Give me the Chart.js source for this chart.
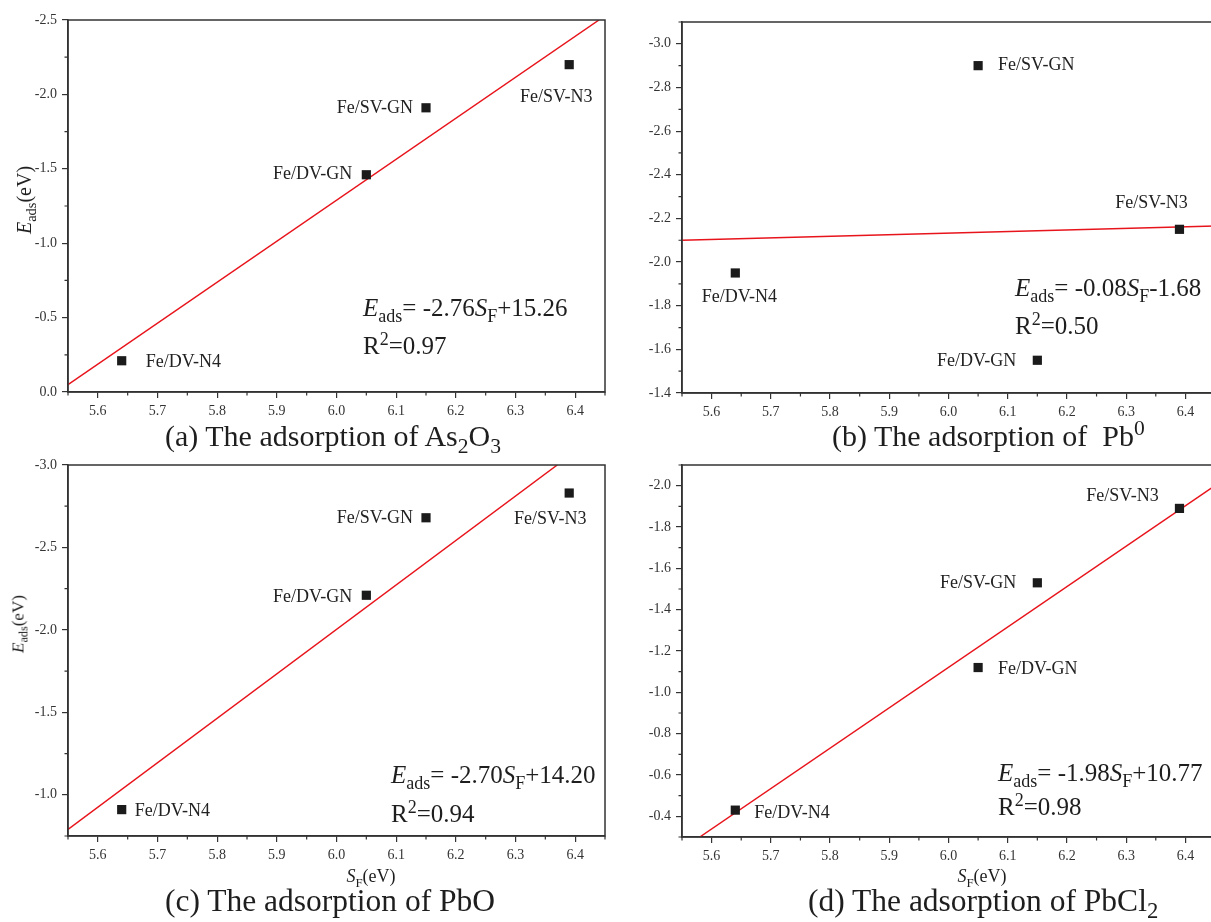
<!DOCTYPE html>
<html>
<head>
<meta charset="utf-8">
<title>Eads vs SF</title>
<script src="https://cdn.jsdelivr.net/npm/chart.js@4.4.1/dist/chart.umd.min.js"></script>
<style>
  html, body { margin: 0; padding: 0; overflow: hidden; }
  body { width: 1211px; height: 922px; position: relative; background: #fff;
         font-family: 'Liberation Serif', 'Times New Roman', serif; color: #1e1e1e; }
  canvas { position: absolute; }
  .t { position: absolute; white-space: nowrap; line-height: 1; }
  .t sub, .t sup { line-height: 0; font-size: 0.72em; }
  .eq { font-size: 25px; }
  .cap { font-size: 30px; }
  .cap2 { font-size: 31.5px; }
  .ytitle { transform: translate(-50%, -50%) rotate(-90deg); }
  .xtitle { transform: translate(-50%, -50%); font-size: 18px; }
</style>
</head>
<body>
<canvas id="chartA" width="620" height="440" style="left:0;top:0"></canvas>
<canvas id="chartB" width="640" height="440" style="left:600px;top:0"></canvas>
<canvas id="chartC" width="620" height="440" style="left:0;top:445px"></canvas>
<canvas id="chartD" width="640" height="440" style="left:600px;top:445px"></canvas>

<!-- axis titles -->
<div class="t ytitle" style="left:24px;top:200px;font-size:20px"><i>E</i><sub>ads</sub>(eV)</div>
<div class="t ytitle" style="left:18px;top:624px;font-size:17px"><i>E</i><sub>ads</sub>(eV)</div>
<div class="t xtitle" style="left:371px;top:876px"><i>S</i><sub>F</sub>(eV)</div>
<div class="t xtitle" style="left:982px;top:876px"><i>S</i><sub>F</sub>(eV)</div>

<!-- fit equations -->
<div class="t eq" style="left:363px;top:295px"><i>E</i><sub>ads</sub>= -2.76<i>S</i><sub>F</sub>+15.26</div>
<div class="t eq" style="left:363px;top:333px">R<sup>2</sup>=0.97</div>
<div class="t eq" style="left:1015px;top:275px"><i>E</i><sub>ads</sub>= -0.08<i>S</i><sub>F</sub>-1.68</div>
<div class="t eq" style="left:1015px;top:313px">R<sup>2</sup>=0.50</div>
<div class="t eq" style="left:391px;top:762px"><i>E</i><sub>ads</sub>= -2.70<i>S</i><sub>F</sub>+14.20</div>
<div class="t eq" style="left:391px;top:801px">R<sup>2</sup>=0.94</div>
<div class="t eq" style="left:998px;top:760px"><i>E</i><sub>ads</sub>= -1.98<i>S</i><sub>F</sub>+10.77</div>
<div class="t eq" style="left:998px;top:794px">R<sup>2</sup>=0.98</div>

<!-- panel captions -->
<div class="t cap" style="left:165px;top:421px">(a) The adsorption of As<sub>2</sub>O<sub>3</sub></div>
<div class="t cap" style="left:832px;top:421px">(b) The adsorption of &nbsp;Pb<sup>0</sup></div>
<div class="t cap2" style="left:165px;top:885px">(c) The adsorption of PbO</div>
<div class="t cap2" style="left:808px;top:885px">(d) The adsorption of PbCl<sub>2</sub></div>

<script>
// S_F (eV) of the four adsorption sites
const sF = [5.64, 6.05, 6.15, 6.39];
const sites = ['Fe/DV-N4', 'Fe/DV-GN', 'Fe/SV-GN', 'Fe/SV-N3'];
// panel (b) has the two middle labels the other way round
const sitesPb0 = ['Fe/DV-N4', 'Fe/SV-GN', 'Fe/DV-GN', 'Fe/SV-N3'];

// E_ads (eV) per adsorbate, same order as sF
const eAs2O3 = [-0.21, -1.46, -1.91, -2.20];
const ePb0 = [-1.95, -2.90, -1.55, -2.15];
const ePbO = [-0.91, -2.21, -2.68, -2.83];
const ePbCl2 = [-0.43, -1.12, -1.53, -1.89];

// fitted lines, end points
const fitXAs2O3 = [5.55, 6.44], fitYAs2O3 = [-0.05, -2.50];
const fitXPb0 = [5.55, 6.45], fitYPb0 = [-2.10, -2.165];
const fitXPbO = [5.55, 6.37], fitYPbO = [-0.79, -3.00];
const fitXPbCl2 = [5.58, 6.45], fitYPbCl2 = [-0.30, -2.00];

// tick labels
const xTicks = [5.6, 5.7, 5.8, 5.9, 6.0, 6.1, 6.2, 6.3, 6.4];
const yTicksA = [0, -0.5, -1.0, -1.5, -2.0, -2.5];
const yTicksB = [-1.4, -1.6, -1.8, -2.0, -2.2, -2.4, -2.6, -2.8, -3.0];
const yTicksC = [-1.0, -1.5, -2.0, -2.5, -3.0];
const yTicksD = [-0.4, -0.6, -0.8, -1.0, -1.2, -1.4, -1.6, -1.8, -2.0];

Chart.defaults.font.family = "'Liberation Serif', 'Times New Roman', serif";
const axisColor = '#333';

// box round the plot, minor ticks and the site labels
const frame = {
  id: 'frame',
  afterDraw(chart, args, opts) {
    const { ctx, chartArea: a, scales } = chart;
    ctx.save();
    ctx.strokeStyle = axisColor;
    ctx.lineWidth = 1.5;
    ctx.strokeRect(a.left, a.top, a.right - a.left, a.bottom - a.top);

    ctx.lineWidth = 1.2;
    ctx.beginPath();
    for (const [id, step] of [['x', 0.1], ['y', opts.yStep]]) {
      const s = scales[id];
      const lo = Math.min(s.min, s.max), hi = Math.max(s.min, s.max);
      const first = s.ticks[0].value;
      for (let k = -40; k <= 40; k++) {
        const v = first + (k + 0.5) * step;
        if (v < lo - 1e-9 || v > hi + 1e-9) continue;
        const p = s.getPixelForValue(v);
        if (id === 'x') { ctx.moveTo(p, a.bottom); ctx.lineTo(p, a.bottom + 3.5); }
        else { ctx.moveTo(a.left, p); ctx.lineTo(a.left - 3.5, p); }
      }
    }
    ctx.stroke();

    ctx.font = "18px 'Liberation Serif', serif";
    ctx.fillStyle = '#222';
    ctx.textBaseline = 'middle';
    const pts = chart.getDatasetMeta(0).data;
    opts.names.forEach((name, i) => {
      const [dx, dy, al] = opts.offsets[i];
      ctx.textAlign = al;
      ctx.fillText(name, pts[i].x + dx, pts[i].y + dy);
    });
    ctx.restore();
  }
};

function makePanel(p) {
  const tickFont = { size: 14 };
  const grid = { drawOnChartArea: false, drawTicks: true, tickLength: 6, color: axisColor, lineWidth: 1.2 };
  const border = { display: true, color: axisColor, width: 1.5 };
  return new Chart(document.getElementById(p.canvas), {
    type: 'scatter',
    data: {
      datasets: [
        {
          data: sF.map((x, i) => ({ x: x, y: p.e[i] })),
          pointStyle: 'rect', pointRadius: 6.5, pointHoverRadius: 6.5,
          backgroundColor: '#1b1b1b', borderWidth: 0
        },
        {
          data: p.fitX.map((x, i) => ({ x: x, y: p.fitY[i] })),
          showLine: true, borderColor: '#e8141c', borderWidth: 1.5, pointRadius: 0
        }
      ]
    },
    options: {
      responsive: false,
      animation: false,
      layout: { padding: { top: p.padT, right: p.padR, left: 0, bottom: 0 } },
      plugins: {
        legend: { display: false },
        tooltip: { enabled: false },
        frame: { yStep: p.yStep, offsets: p.offsets, names: p.names }
      },
      scales: {
        x: {
          type: 'linear', min: 5.55, max: 6.45,
          afterBuildTicks: s => { s.ticks = xTicks.map(v => ({ value: v })); },
          afterFit: s => { s.height = p.xH; },
          ticks: { callback: v => v.toFixed(1), font: tickFont, color: '#333', padding: 5 },
          grid: grid, border: border
        },
        y: {
          type: 'linear', min: p.yMin, max: p.yMax, reverse: true,
          afterBuildTicks: s => { s.ticks = p.yTicks.map(v => ({ value: v })); },
          afterFit: s => { s.width = p.yW; },
          ticks: { callback: v => v.toFixed(1), font: tickFont, color: '#333', padding: 5 },
          grid: grid, border: border
        }
      }
    },
    plugins: [frame]
  });
}

makePanel({
  canvas: 'chartA', e: eAs2O3, names: sites, fitX: fitXAs2O3, fitY: fitYAs2O3,
  yMin: -2.5, yMax: 0, yTicks: yTicksA, yStep: 0.5,
  yW: 68, xH: 48, padT: 20, padR: 15,
  offsets: [[24, 2, 'left'], [-14, 0, 'right'], [-13, 0, 'right'], [-13, 33, 'center']]
});
makePanel({
  canvas: 'chartB', e: ePb0, names: sitesPb0, fitX: fitXPb0, fitY: fitYPb0,
  yMin: -3.1, yMax: -1.4, yTicks: yTicksB, yStep: 0.2,
  yW: 82, xH: 47, padT: 22, padR: 25,
  offsets: [[4, 24, 'center'], [20, 0, 'left'], [-21, 1, 'right'], [-28, -26, 'center']]
});
makePanel({
  canvas: 'chartC', e: ePbO, names: sites, fitX: fitXPbO, fitY: fitYPbO,
  yMin: -3.0, yMax: -0.75, yTicks: yTicksC, yStep: 0.5,
  yW: 68, xH: 49, padT: 20, padR: 15,
  offsets: [[13, 2, 'left'], [-14, 2, 'right'], [-13, 1, 'right'], [-19, 26, 'center']]
});
makePanel({
  canvas: 'chartD', e: ePbCl2, names: sites, fitX: fitXPbCl2, fitY: fitYPbCl2,
  yMin: -2.1, yMax: -0.3, yTicks: yTicksD, yStep: 0.2,
  yW: 82, xH: 48, padT: 20, padR: 25,
  offsets: [[19, 3, 'left'], [20, 2, 'left'], [-21, 0, 'right'], [-57, -12, 'center']]
});
</script>
</body>
</html>
